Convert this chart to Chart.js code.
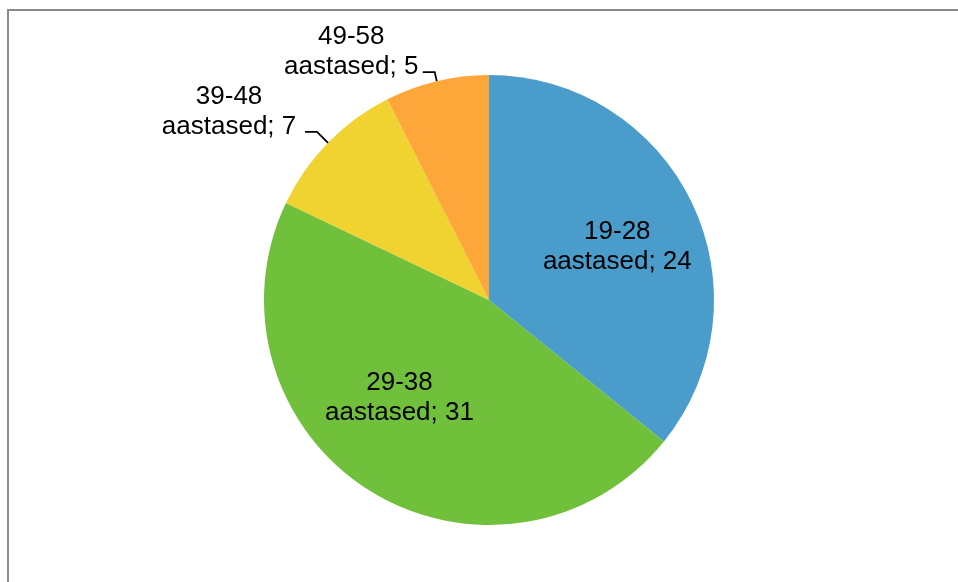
<!DOCTYPE html>
<html>
<head>
<meta charset="utf-8">
<script src="https://cdn.jsdelivr.net/npm/chart.js@4"></script>
<style>
  html, body { margin: 0; padding: 0; background: #fff; }
  canvas { display: block; }
</style>
</head>
<body>
<canvas id="pie" width="958" height="582"></canvas>
<script>
// age groups and respondent counts
const ageGroups = ['19-28', '29-38', '39-48', '49-58'];
const counts = [24, 31, 7, 5];
const sliceColors = ['#4a9ccb', '#70c03b', '#f0d230', '#fda63a'];
const unitLabel = 'aastased';

// label placement per slice (inside = on slice, otherwise with a leader line)
const labelPlacement = [
    { inside: true, k: 0.6, dx: 6.5, dy: 12 },
    { inside: true, k: 0.6, dx: -17.5, dy: -9.5 },
    { inside: false, dx: -99, dy: -9, elbow: [-11, -11], lineEnd: -23 },
    { inside: false, dx: -85.5, dy: -7, elbow: [-2, -9], lineEnd: -14 }
];

const FONT = '26px "Liberation Sans", Arial, sans-serif';
const LINE_GAP = 30;

const framePlugin = {
    id: 'frame',
    beforeDraw(chart) {
        const ctx = chart.ctx;
        ctx.save();
        ctx.fillStyle = '#fff';
        ctx.fillRect(0, 0, chart.width, chart.height);
        ctx.strokeStyle = '#8c8c8c';
        ctx.lineWidth = 2;
        ctx.beginPath();
        ctx.moveTo(8, chart.height + 2);
        ctx.lineTo(8, 10);
        ctx.lineTo(chart.width + 2, 10);
        ctx.stroke();
        ctx.restore();
    }
};

const labelPlugin = {
    id: 'sliceLabels',
    afterDatasetsDraw(chart) {
        const ctx = chart.ctx;
        const meta = chart.getDatasetMeta(0);
        ctx.save();
        ctx.font = FONT;
        ctx.fillStyle = '#000';
        ctx.textAlign = 'center';
        ctx.textBaseline = 'alphabetic';
        meta.data.forEach((arc, i) => {
            const p = arc.getProps(['x', 'y', 'startAngle', 'endAngle', 'outerRadius'], true);
            const mid = (p.startAngle + p.endAngle) / 2;
            const place = labelPlacement[i];
            const line1 = ageGroups[i];
            const line2 = unitLabel + '; ' + counts[i];
            if (place.inside) {
                const ax = p.x + Math.cos(mid) * p.outerRadius * place.k + place.dx;
                const ay = p.y + Math.sin(mid) * p.outerRadius * place.k + place.dy;
                ctx.fillText(line1, ax, ay - LINE_GAP / 2);
                ctx.fillText(line2, ax, ay + LINE_GAP / 2);
            } else {
                const ex = p.x + Math.cos(mid) * p.outerRadius;
                const ey = p.y + Math.sin(mid) * p.outerRadius;
                // leader line
                ctx.strokeStyle = '#000';
                ctx.lineWidth = 1.8;
                ctx.beginPath();
                ctx.moveTo(ex, ey);
                ctx.lineTo(ex + place.elbow[0], ey + place.elbow[1]);
                ctx.lineTo(ex + place.lineEnd, ey + place.elbow[1]);
                ctx.stroke();
                const lx = ex + place.dx;
                const ly = ey + place.dy;
                ctx.fillText(line1, lx, ly - LINE_GAP);
                ctx.fillText(line2, lx, ly);
            }
        });
        ctx.restore();
    }
};

new Chart(document.getElementById('pie'), {
    type: 'pie',
    data: {
        labels: ageGroups,
        datasets: [{
            data: counts,
            backgroundColor: sliceColors,
            borderWidth: 0
        }]
    },
    options: {
        responsive: false,
        animation: false,
        layout: {
            padding: { top: 75, bottom: 57, left: 20, right: 0 }
        },
        plugins: {
            legend: { display: false },
            tooltip: { enabled: false }
        }
    },
    plugins: [framePlugin, labelPlugin]
});
</script>
</body>
</html>
